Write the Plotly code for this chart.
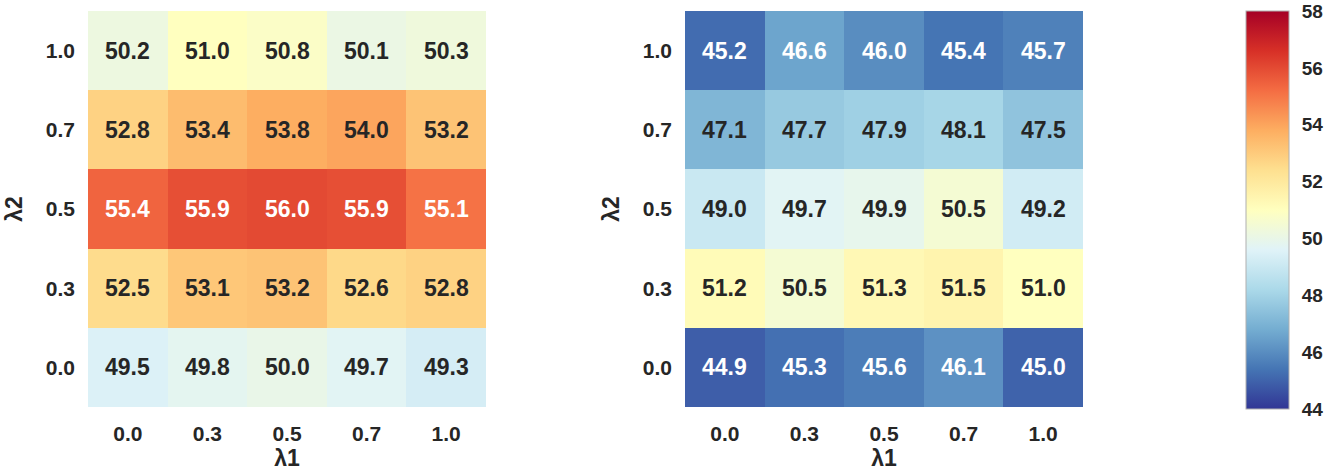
import plotly.graph_objects as go
from plotly.colors import sample_colorscale

# Grid labels for the two weighting coefficients
lambda1_labels = ["0.0", "0.3", "0.5", "0.7", "1.0"]
lambda2_labels = ["0.0", "0.3", "0.5", "0.7", "1.0"]  # bottom -> top

# Scores, rows ordered by lambda2 from 0.0 (bottom) to 1.0 (top)
left_scores = [
    [49.5, 49.8, 50.0, 49.7, 49.3],
    [52.5, 53.1, 53.2, 52.6, 52.8],
    [55.4, 55.9, 56.0, 55.9, 55.1],
    [52.8, 53.4, 53.8, 54.0, 53.2],
    [50.2, 51.0, 50.8, 50.1, 50.3],
]
right_scores = [
    [44.9, 45.3, 45.6, 46.1, 45.0],
    [51.2, 50.5, 51.3, 51.5, 51.0],
    [49.0, 49.7, 49.9, 50.5, 49.2],
    [47.1, 47.7, 47.9, 48.1, 47.5],
    [45.2, 46.6, 46.0, 45.4, 45.7],
]

ZMIN, ZMAX = 44, 58
colorbar_ticks = [44, 46, 48, 50, 52, 54, 56, 58]

W, H = 1326, 471
FONT = "Liberation Sans, Arial, sans-serif"
DARK = "#262626"
SCALE = "RdYlBu_r"


def px_x(p):
    return p / W


def px_y(p):
    return 1 - p / H


def text_color(v):
    """White text on dark cells, dark text on light cells (relative luminance)."""
    c = sample_colorscale(SCALE, [(v - ZMIN) / (ZMAX - ZMIN)])[0]
    r, g, b = [float(t) / 255 for t in c[c.index("(") + 1:-1].split(",")]

    def lin(u):
        return u / 12.92 if u <= 0.03928 else ((u + 0.055) / 1.055) ** 2.4

    lum = 0.2126 * lin(r) + 0.7152 * lin(g) + 0.0722 * lin(b)
    return "white" if lum < 0.408 else DARK


fig = go.Figure()

panels = [(left_scores, "x", "y"), (right_scores, "x2", "y2")]
annotations = []
for scores, xa, ya in panels:
    fig.add_trace(go.Heatmap(
        z=scores, x=lambda1_labels, y=lambda2_labels,
        coloraxis="coloraxis", xaxis=xa, yaxis=ya,
        xgap=0, ygap=0, hoverinfo="skip",
    ))
    # cell labels placed by category index (i = row, j = column)
    for i, row in enumerate(scores):
        for j, v in enumerate(row):
            annotations.append(dict(
                x=j, y=i, xref=xa, yref=ya,
                text=f"{v:.1f}", showarrow=False,
                font=dict(family=FONT, size=23, color=text_color(v), weight="bold"),
            ))

axis_common = dict(
    type="category", showgrid=False, zeroline=False, showline=False,
    ticks="", ticklabelstandoff=12, automargin=False,
    tickfont=dict(family=FONT, size=21, color=DARK, weight="bold"),
    title_font=dict(family=FONT, size=23, color=DARK, weight="bold"),
)

y_dom = [px_y(407), px_y(11)]
fig.update_layout(
    width=W, height=H,
    margin=dict(l=0, r=0, t=0, b=0),
    paper_bgcolor="white", plot_bgcolor="white",
    xaxis=dict(domain=[px_x(88), px_x(486)], anchor="y",
               title=dict(text="λ1", standoff=5), **axis_common),
    yaxis=dict(domain=y_dom, anchor="x",
               title=dict(text="λ2", standoff=16), **axis_common),
    xaxis2=dict(domain=[px_x(685), px_x(1083)], anchor="y2",
                title=dict(text="λ1", standoff=5), **axis_common),
    yaxis2=dict(domain=y_dom, anchor="x2",
                title=dict(text="λ2", standoff=16), **axis_common),
    coloraxis=dict(
        colorscale=SCALE, cmin=ZMIN, cmax=ZMAX,
        colorbar=dict(
            x=px_x(1246), xanchor="left", xpad=0, ypad=0,
            y=px_y(210), yanchor="middle",
            thickness=43, thicknessmode="pixels",
            len=398, lenmode="pixels",
            outlinewidth=1, outlinecolor="#b0b0b0",
            tickvals=colorbar_ticks, ticks="outside", ticklen=9,
            tickcolor="rgba(0,0,0,0)",
            tickfont=dict(family=FONT, size=19, color=DARK, weight="bold"),
        ),
    ),
    annotations=annotations,
)

fig.write_html("out.html")
